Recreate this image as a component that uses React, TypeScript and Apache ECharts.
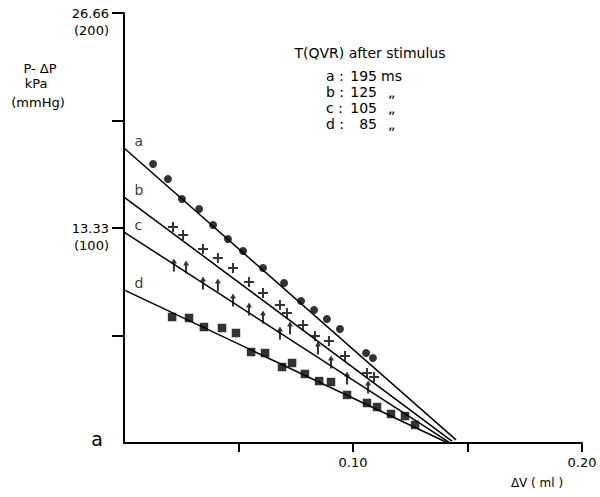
import React, { useEffect, useRef } from 'react';
import * as echarts from 'echarts';

// ---- data ----
const xTickValues = [0.05, 0.1, 0.15, 0.2];
const xLabelValues = [0.1, 0.2];
const xTickLabels = ['0.10', '0.20'];
const yTickValues = [6.665, 13.33, 19.995, 26.66];
const yLabelValues = [13.33, 26.66];
const yTickLabels = ['13.33', '26.66'];
const yTickMmHg = ['(100)', '(200)'];

const lineNames = ['a', 'b', 'c', 'd'];

const seriesA: [number, number][] = [
  [0.0127, 17.30], [0.0192, 16.37], [0.0253, 15.13], [0.0328, 14.51], [0.0389, 13.52],
  [0.0454, 12.65], [0.0520, 11.90], [0.0607, 10.85], [0.0699, 9.92], [0.0773, 8.80],
  [0.0830, 8.25], [0.0886, 7.69], [0.0943, 7.07], [0.1057, 5.58], [0.1087, 5.27],
];
const seriesB: [number, number][] = [
  [0.0214, 13.39], [0.0258, 12.90], [0.0345, 12.03], [0.0410, 11.47], [0.0476, 10.85],
  [0.0546, 9.98], [0.0607, 9.30], [0.0681, 8.56], [0.0712, 8.06], [0.0782, 7.32],
  [0.0834, 6.63], [0.0895, 6.32], [0.0965, 5.39], [0.1061, 4.34], [0.1092, 4.09],
];
const seriesC: [number, number][] = [
  [0.0218, 11.04], [0.0271, 10.91], [0.0345, 9.92], [0.0410, 9.80], [0.0476, 8.87],
  [0.0546, 8.31], [0.0607, 7.81], [0.0681, 6.82], [0.0725, 7.13], [0.0847, 5.89],
  [0.0904, 5.02], [0.0974, 4.03], [0.1066, 3.47],
];
const seriesD: [number, number][] = [
  [0.0210, 7.81], [0.0284, 7.75], [0.0349, 7.19], [0.0428, 7.13], [0.0489, 6.82],
  [0.0555, 5.64], [0.0616, 5.58], [0.0690, 4.71], [0.0734, 4.96], [0.0790, 4.28],
  [0.0852, 3.84], [0.0904, 3.78], [0.0974, 2.98], [0.1061, 2.48], [0.1105, 2.23],
  [0.1166, 1.80], [0.1227, 1.67], [0.1271, 1.12],
];

const fitA: [number, number][] = [[0, 18.29], [0.145, 0.19]];
const fitB: [number, number][] = [[0, 15.25], [0.1432, 0.12]];
const fitC: [number, number][] = [[0, 13.08], [0.1419, 0.06]];
const fitD: [number, number][] = [[0, 9.49], [0.1415, 0]];

const legendTitle = 'T(QVR) after stimulus';
const legendKeys = ['a :', 'b :', 'c :', 'd :'];
const legendValues = ['195', '125', '105', '85'];
const legendUnits = ['ms', '„', '„', '„'];

const yAxisTitle = ['P- ΔP', 'kPa', '(mmHg)'];
const xAxisTitle = 'ΔV ( ml )';
const panelLabel = 'a';

const FONT = 'DejaVu Sans';

const PLUS = 'path://M4,0H6V4H10V6H6V10H4V6H0V4H4Z';
const ARROW = 'path://M3,0L6,5H4V13H2V5H0Z';

export default function App() {
  const ref = useRef<HTMLDivElement>(null);

  useEffect(() => {
    if (!ref.current) return;
    const chart = echarts.init(ref.current, null, { renderer: 'svg' });

    const fits = [fitA, fitB, fitC, fitD];
    const txt = (text: string, x: number, y: number, size: number, align = 'center') => ({
      type: 'text',
      x,
      y,
      silent: true,
      style: {
        text,
        fontFamily: FONT,
        fontSize: size,
        fill: '#000',
        textAlign: align,
        textVerticalAlign: 'middle',
        verticalAlign: 'middle',
      },
    });

    const graphics: any[] = [
      txt(yAxisTitle[0], 40, 68, 13),
      txt(yAxisTitle[1], 36, 83, 13),
      txt(yAxisTitle[2], 38, 102, 13),
      txt(legendTitle, 370, 53, 14),
      txt(xAxisTitle, 537, 483, 12),
      txt(panelLabel, 97, 439, 19),
    ];
    legendKeys.forEach((k, i) => {
      const y = 76 + i * 16;
      graphics.push(txt(k, 326, y, 14, 'left'));
      graphics.push(txt(legendValues[i], 377, y, 14, 'right'));
      graphics.push(txt(legendUnits[i], i === 0 ? 381 : 388, y, 14, 'left'));
    });

    const scatterBase = {
      type: 'scatter',
      silent: true,
      itemStyle: { color: '#000' },
    };

    chart.setOption({
      animation: false,
      backgroundColor: '#fff',
      textStyle: { fontFamily: FONT, color: '#000' },
      grid: { left: 124, right: 18, top: 13, bottom: 54, containLabel: false, outerBoundsMode: 'none' },
      xAxis: {
        type: 'value',
        min: 0,
        max: 0.2,
        splitLine: { show: false },
        axisLine: { show: true, onZero: false, lineStyle: { color: '#000', width: 2 } },
        axisTick: { show: true, inside: false, length: 9, customValues: xTickValues, lineStyle: { color: '#000', width: 2 } },
        axisLabel: {
          show: true,
          customValues: xLabelValues,
          margin: 13,
          fontSize: 13,
          fontFamily: FONT,
          color: '#000',
          formatter: (v: number) => {
            const i = xLabelValues.findIndex((t) => Math.abs(t - v) < 1e-6);
            return i >= 0 ? xTickLabels[i] : '';
          },
        },
      },
      yAxis: {
        type: 'value',
        min: 0,
        max: 26.66,
        splitLine: { show: false },
        axisLine: { show: true, onZero: false, lineStyle: { color: '#000', width: 2 } },
        axisTick: { show: true, inside: false, length: 12, customValues: yTickValues, lineStyle: { color: '#000', width: 2 } },
        axisLabel: {
          show: true,
          customValues: yLabelValues,
          margin: 15,
          fontSize: 13,
          lineHeight: 17,
          fontFamily: FONT,
          color: '#000',
          align: 'right',
          formatter: (v: number) => {
            const i = yLabelValues.findIndex((t) => Math.abs(t - v) < 1e-3);
            return i >= 0 ? '\n' + yTickLabels[i] + '\n' + yTickMmHg[i] : '';
          },
        },
      },
      series: [
        ...fits.map((f) => ({
          type: 'line',
          data: f,
          symbol: 'none',
          silent: true,
          lineStyle: { color: '#000', width: 1.5 },
        })),
        { ...scatterBase, data: seriesA, symbol: 'circle', symbolSize: 8 },
        { ...scatterBase, data: seriesB, symbol: PLUS, symbolSize: 10 },
        { ...scatterBase, data: seriesC, symbol: ARROW, symbolSize: [6, 13] },
        { ...scatterBase, data: seriesD, symbol: 'rect', symbolSize: 8.5 },
        {
          type: 'scatter',
          silent: true,
          data: fits.map((f, i) => ({ value: f[0], name: lineNames[i] })),
          symbolSize: 1,
          itemStyle: { color: 'rgba(0,0,0,0)' },
          label: {
            show: true,
            position: 'right',
            distance: 10,
            offset: [0, -7],
            formatter: (p: any) => p.name,
            fontSize: 14,
            fontFamily: FONT,
            color: '#000',
          },
        },
      ],
      graphic: graphics,
    });

    return () => chart.dispose();
  }, []);

  return (
    <div
      ref={ref}
      style={{ position: 'fixed', left: 0, top: 0, width: 600, height: 497, background: '#fff' }}
    />
  );
}
